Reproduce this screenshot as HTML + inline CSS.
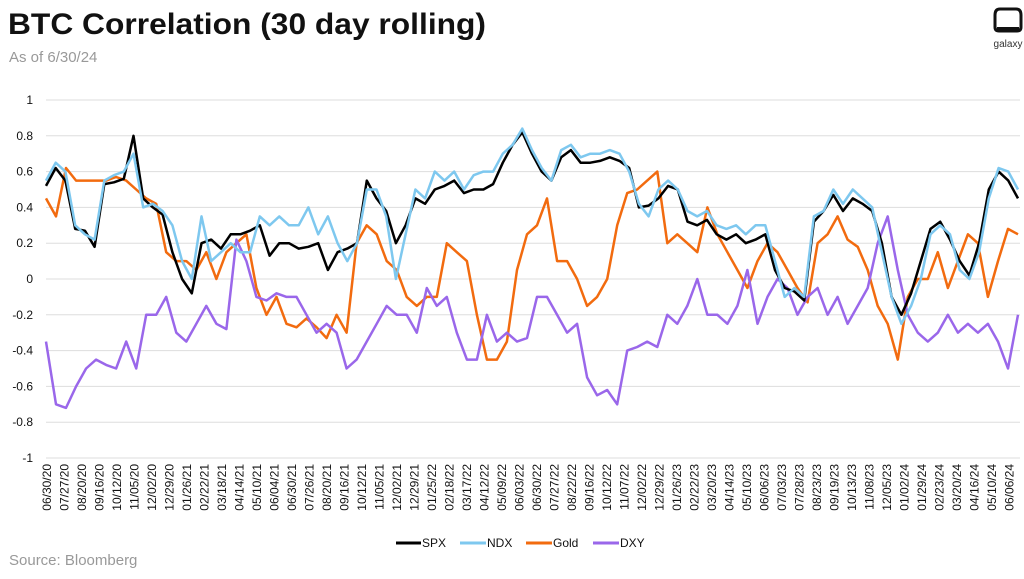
<!DOCTYPE html>
<html><head><meta charset="utf-8"><style>
body{margin:0;background:#fff;width:1024px;height:574px;overflow:hidden;font-family:"Liberation Sans",sans-serif}
</style></head><body>
<svg width="1024" height="574" xmlns="http://www.w3.org/2000/svg">
<text x="8" y="34" font-size="30" font-weight="bold" fill="#111" textLength="478" lengthAdjust="spacingAndGlyphs">BTC Correlation (30 day rolling)</text>
<text x="9" y="62" font-size="15" fill="#999">As of 6/30/24</text>
<g>
<path d="M1000 9 H1016 Q1021 9 1021 15 V27 Q1021 31 1017 31 H999 Q995 31 995 27 V15 Q995 9 1000 9 Z" fill="none" stroke="#111" stroke-width="3"/>
<rect x="997" y="27" width="22" height="4" fill="#111"/>
<text x="1008" y="47" font-size="10" text-anchor="middle" fill="#333">galaxy</text>
</g>
<g id="grid"></g>
<g id="yt"></g>
<g id="xt"></g>
<g id="series"></g>
<g font-size="12" fill="#111">
<g><line x1="396" y1="543" x2="421" y2="543" stroke="#000" stroke-width="3"/><text x="422" y="547">SPX</text></g>
<g><line x1="460" y1="543" x2="486" y2="543" stroke="#7ec8ef" stroke-width="3"/><text x="487" y="547">NDX</text></g>
<g><line x1="526" y1="543" x2="552" y2="543" stroke="#f26b0f" stroke-width="3"/><text x="553" y="547">Gold</text></g>
<g><line x1="593" y1="543" x2="619" y2="543" stroke="#9a67ea" stroke-width="3"/><text x="620" y="547">DXY</text></g>
</g>
<text x="9" y="565" font-size="15" fill="#999">Source: Bloomberg</text>
</svg>
<script>
const xLabels=["06/30/20","07/27/20","08/20/20","09/16/20","10/12/20","11/05/20","12/02/20","12/29/20","01/26/21","02/22/21","03/18/21","04/14/21","05/10/21","06/04/21","06/30/21","07/26/21","08/20/21","09/16/21","10/12/21","11/05/21","12/02/21","12/29/21","01/25/22","02/18/22","03/17/22","04/12/22","05/09/22","06/03/22","06/30/22","07/27/22","08/22/22","09/16/22","10/12/22","11/07/22","12/02/22","12/29/22","01/26/23","02/22/23","03/20/23","04/14/23","05/10/23","06/06/23","07/03/23","07/28/23","08/23/23","09/19/23","10/13/23","11/08/23","12/05/23","01/02/24","01/29/24","02/23/24","03/20/24","04/16/24","05/10/24","06/06/24"];
const yTicks=[1,0.8,0.6,0.4,0.2,0,-0.2,-0.4,-0.6,-0.8,-1];
const spx=[0.52,0.62,0.55,0.28,0.27,0.18,0.53,0.54,0.56,0.8,0.45,0.4,0.36,0.15,0.0,-0.08,0.2,0.22,0.17,0.25,0.25,0.27,0.3,0.13,0.2,0.2,0.17,0.18,0.2,0.05,0.15,0.17,0.2,0.55,0.45,0.38,0.2,0.3,0.45,0.42,0.5,0.52,0.55,0.48,0.5,0.5,0.53,0.65,0.75,0.82,0.7,0.6,0.55,0.68,0.72,0.65,0.65,0.66,0.68,0.66,0.62,0.4,0.41,0.45,0.52,0.5,0.32,0.3,0.33,0.25,0.22,0.25,0.2,0.22,0.25,0.05,-0.05,-0.07,-0.12,0.32,0.38,0.47,0.38,0.45,0.42,0.38,0.2,-0.1,-0.2,-0.08,0.1,0.28,0.32,0.22,0.1,0.02,0.2,0.5,0.6,0.55,0.45];
const ndx=[0.55,0.65,0.6,0.3,0.25,0.22,0.55,0.58,0.6,0.7,0.4,0.42,0.38,0.3,0.1,0.0,0.35,0.1,0.15,0.2,0.15,0.15,0.35,0.3,0.35,0.3,0.3,0.4,0.25,0.35,0.2,0.1,0.2,0.5,0.5,0.35,0.0,0.25,0.5,0.45,0.6,0.55,0.6,0.5,0.58,0.6,0.6,0.7,0.75,0.84,0.72,0.62,0.55,0.72,0.75,0.68,0.7,0.7,0.72,0.7,0.6,0.42,0.35,0.5,0.55,0.5,0.38,0.35,0.38,0.3,0.28,0.3,0.25,0.3,0.3,0.1,-0.1,-0.05,-0.1,0.35,0.38,0.5,0.42,0.5,0.45,0.4,0.15,-0.1,-0.25,-0.15,0.0,0.25,0.3,0.25,0.05,0.0,0.15,0.45,0.62,0.6,0.5];
const gold=[0.45,0.35,0.62,0.55,0.55,0.55,0.55,0.57,0.55,0.5,0.45,0.42,0.15,0.1,0.1,0.05,0.15,0.0,0.15,0.2,0.25,-0.05,-0.2,-0.1,-0.25,-0.27,-0.22,-0.27,-0.33,-0.2,-0.3,0.2,0.3,0.25,0.1,0.05,-0.1,-0.15,-0.1,-0.1,0.2,0.15,0.1,-0.2,-0.45,-0.45,-0.35,0.05,0.25,0.3,0.45,0.1,0.1,0.0,-0.15,-0.1,0.0,0.3,0.48,0.5,0.55,0.6,0.2,0.25,0.2,0.15,0.4,0.25,0.15,0.05,-0.05,0.1,0.2,0.15,0.05,-0.05,-0.13,0.2,0.25,0.35,0.22,0.18,0.05,-0.15,-0.25,-0.45,-0.1,0.0,0.0,0.15,-0.05,0.1,0.25,0.2,-0.1,0.1,0.28,0.25];
const dxy=[-0.35,-0.7,-0.72,-0.6,-0.5,-0.45,-0.48,-0.5,-0.35,-0.5,-0.2,-0.2,-0.1,-0.3,-0.35,-0.25,-0.15,-0.25,-0.28,0.22,0.1,-0.1,-0.12,-0.08,-0.1,-0.1,-0.2,-0.3,-0.25,-0.3,-0.5,-0.45,-0.35,-0.25,-0.15,-0.2,-0.2,-0.3,-0.05,-0.15,-0.1,-0.3,-0.45,-0.45,-0.2,-0.35,-0.3,-0.35,-0.33,-0.1,-0.1,-0.2,-0.3,-0.25,-0.55,-0.65,-0.62,-0.7,-0.4,-0.38,-0.35,-0.38,-0.2,-0.25,-0.15,0.0,-0.2,-0.2,-0.25,-0.15,0.05,-0.25,-0.1,0.0,-0.05,-0.2,-0.1,-0.05,-0.2,-0.1,-0.25,-0.15,-0.05,0.2,0.35,0.05,-0.2,-0.3,-0.35,-0.3,-0.2,-0.3,-0.25,-0.3,-0.25,-0.35,-0.5,-0.2];
const NS="http://www.w3.org/2000/svg";
const X0=46,X1=1018,Y1v=100,Ym1=458;
const yS=v=>Y1v+(1-v)*(Ym1-Y1v)/2;
const xS=(i,n)=>X0+i*(X1-X0)/(n-1);
const lx=i=>47+i*17.5;
const grid=document.getElementById('grid'),yt=document.getElementById('yt'),xt=document.getElementById('xt'),ser=document.getElementById('series');
yTicks.forEach(v=>{
 const l=document.createElementNS(NS,'line');
 
 
 l.setAttribute('x1',46);l.setAttribute('x2',1020);l.setAttribute('y1',yS(v));l.setAttribute('y2',yS(v));
 l.setAttribute('stroke','#ddd');l.setAttribute('stroke-width','1');grid.appendChild(l);
 const t=document.createElementNS(NS,'text');
 
 
 t.setAttribute('x',33);t.setAttribute('y',yS(v)+4);t.setAttribute('text-anchor','end');t.setAttribute('font-size','12');t.setAttribute('fill','#111');
 t.textContent=String(v);yt.appendChild(t);
});
xLabels.forEach((s,i)=>{
 const t=document.createElementNS(NS,'text');
 
 
 const x=lx(i)+4,y=464;
 t.setAttribute('x',x);t.setAttribute('y',y);t.setAttribute('text-anchor','end');t.setAttribute('font-size','12');t.setAttribute('fill','#111');
 t.setAttribute('transform','rotate(-90 '+x+' '+y+')');t.textContent=s;xt.appendChild(t);
});
[[gold,'#f26b0f','gold-line'],[dxy,'#9a67ea','dxy-line'],[spx,'#000','spx-line'],[ndx,'#7ec8ef','ndx-line']].forEach(([d,c,n])=>{
 const p=document.createElementNS(NS,'polyline');
 
 
 p.setAttribute('points',d.map((v,i)=>xS(i,d.length).toFixed(1)+','+yS(v).toFixed(1)).join(' '));
 p.setAttribute('fill','none');p.setAttribute('stroke',c);p.setAttribute('stroke-width','2.5');p.setAttribute('stroke-linejoin','round');
 ser.appendChild(p);
});
</script>
</body></html>
